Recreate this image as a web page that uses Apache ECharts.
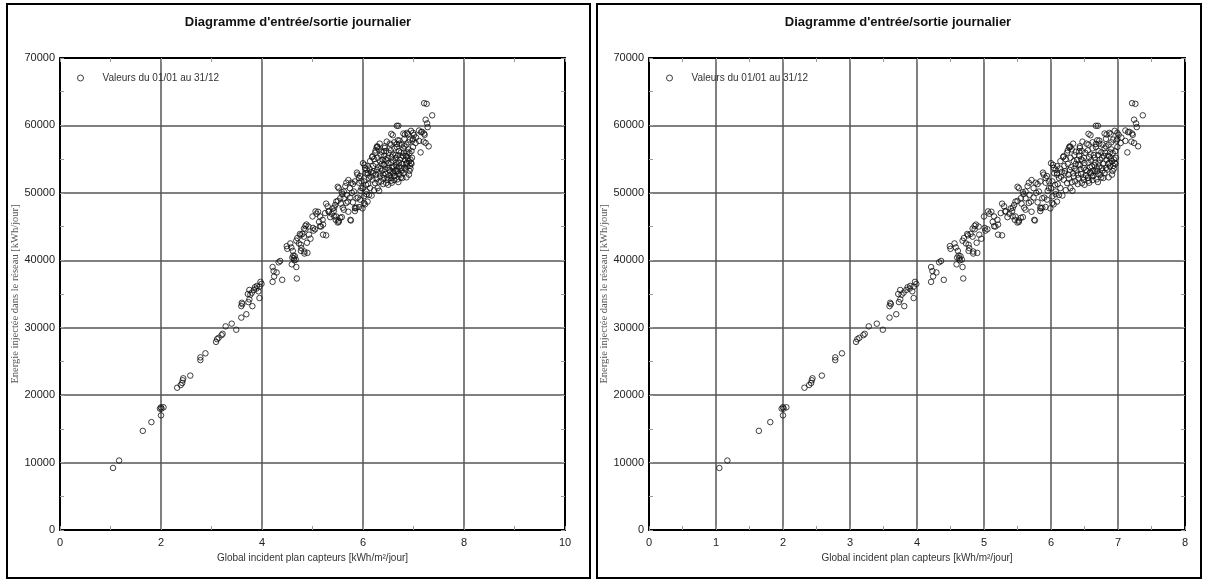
<!DOCTYPE html>
<html>
<head>
<meta charset="utf-8">
<script src="https://cdn.jsdelivr.net/npm/echarts@6/dist/echarts.min.js"></script>
<style>
  html, body { margin: 0; padding: 0; background: #fff; }
  #chart { width: 1205px; height: 581px; }
</style>
</head>
<body>
<div id="chart"></div>
<script>
// Texts
const chartTitle = "Diagramme d'entrée/sortie journalier";
const seriesName = 'Valeurs du 01/01 au 31/12';
const xAxisTitle = 'Global incident plan capteurs [kWh/m²/jour]';
const yAxisTitle = 'Energie injectée dans le réseau [kWh/jour]';

// Tick values
const xTicksLeft = [0, 2, 4, 6, 8, 10];
const xTicksRight = [0, 1, 2, 3, 4, 5, 6, 7, 8];
const yTicks = [0, 10000, 20000, 30000, 40000, 50000, 60000, 70000];

// Daily values [global incident kWh/m²/day, injected energy kWh/day], grouped by irradiation band
const daysBelow4 = [
  [1.05, 9200], [1.17, 10300], [1.64, 14700], [1.81, 16000], [2.0, 17000], [1.98, 18000], [2.0, 18200], [2.05, 18200], [2.01, 18000],
  [2.32, 21100], [2.39, 21500], [2.42, 21800], [2.43, 22200], [2.44, 22500], [2.58, 22900],
  [2.78, 25200], [2.78, 25600], [2.88, 26200],
  [3.09, 27900], [3.11, 28300], [3.14, 28500], [3.2, 28900], [3.22, 29100], [3.28, 30200], [3.4, 30600], [3.49, 29700],
  [3.59, 31500], [3.69, 32000], [3.59, 33200], [3.61, 33500], [3.6, 33700], [3.73, 33800], [3.75, 34200], [3.81, 33200],
  [3.77, 34900], [3.8, 35200], [3.84, 35600], [3.89, 35800], [3.93, 35400], [3.95, 34400], [3.95, 36100], [3.99, 36500],
  [3.75, 35600], [3.72, 35000], [3.86, 36000], [3.97, 36800], [3.9, 36200]
];
const days4to5 = [
  [4.21, 36800], [4.24, 37600], [4.23, 38400], [4.29, 38200], [4.21, 39000], [4.36, 39900], [4.4, 37100], [4.33, 39700],
  [4.59, 39400], [4.63, 40300], [4.65, 40600], [4.67, 40100], [4.68, 39000], [4.69, 37300], [4.62, 40700], [4.6, 40400], [4.64, 40000],
  [4.5, 41700], [4.58, 41900], [4.61, 41400], [4.68, 42900], [4.73, 42500], [4.77, 42300], [4.77, 41400], [4.84, 41300], [4.9, 41100],
  [4.76, 43700], [4.8, 43900], [4.86, 44600], [4.92, 45000], [4.89, 42600], [4.96, 43200], [4.7, 43300], [4.83, 43500],
  [4.49, 42100], [4.56, 42500], [4.75, 43900], [4.86, 45100], [4.88, 45300], [4.83, 44700], [4.78, 41800], [4.84, 41000], [4.93, 43800]
];
const days5to6 = [
  [5.02, 44400], [5.05, 44600], [5.08, 46900], [5.11, 47200], [5.13, 45700], [5.17, 45000], [5.21, 45300], [5.21, 43800],
  [5.27, 43700], [5.25, 47000], [5.27, 48400], [5.32, 47300], [5.35, 46400], [5.42, 47300], [5.43, 46500], [5.46, 46000],
  [5.5, 45600], [5.52, 45900], [5.55, 46300], [5.43, 47800], [5.5, 48800], [5.58, 46400], [5.6, 47800], [5.59, 49800],
  [5.58, 50100], [5.65, 51000], [5.5, 50900], [5.67, 48500], [5.71, 47200], [5.76, 45900], [5.74, 49300], [5.78, 50000],
  [5.8, 51300], [5.84, 47800], [5.87, 47800], [5.84, 47300], [5.9, 49300], [5.92, 47900], [5.95, 50300], [5.92, 52200],
  [5.97, 51700], [5.4, 47700], [5.32, 47200], [5.47, 46500], [5.52, 45700], [5.75, 46000], [5.85, 47700], [5.47, 48700],
  [5.55, 49200], [5.62, 49200], [5.7, 48700], [5.62, 50200], [5.52, 50700], [5.67, 51500], [5.74, 50700], [5.77, 51500],
  [5.82, 50200], [5.87, 49200], [5.94, 49000], [5.99, 47700], [5.84, 51700], [5.89, 52700], [5.94, 52500], [5.92, 51500],
  [5.97, 50700], [5.71, 51900], [5.88, 53000], [5.3, 48000], [5.15, 46500], [5.38, 46900], [5.62, 47500], [5.45, 48200],
  [5.56, 48400], [5.68, 49700], [5.8, 48600], [5.01, 44800], [5.06, 47250], [5.0, 46500], [5.15, 45050], [5.2, 46000]
];
const days6to7 = [
  [6.04, 48300], [6.02, 49500], [6.0, 50700], [6.07, 49800], [6.04, 53700], [6.09, 52700], [6.02, 48500], [6.09, 48700],
  [6.12, 49700], [6.07, 50200], [6.14, 50700], [6.02, 51700], [6.19, 51950], [6.24, 51450], [6.29, 50700], [6.36, 51700],
  [6.46, 51450], [6.0, 54400], [6.03, 54150], [6.18, 55300], [6.28, 56900], [6.43, 56900],
  [6.09, 53950], [6.07, 53450], [6.09, 52950], [6.14, 54700], [6.19, 55450], [6.24, 55950], [6.29, 56800], [6.31, 56450],
  [6.29, 55200], [6.34, 54700], [6.41, 54200], [6.49, 53700], [6.54, 53200], [6.21, 53200], [6.26, 52700], [6.34, 52450],
  [6.41, 52200], [6.49, 51950], [6.56, 51800], [6.61, 52450], [6.69, 53200], [6.76, 55200], [6.81, 55950], [6.46, 56200],
  [6.51, 55950], [6.59, 55700], [6.65, 55200], [6.71, 54450], [6.76, 53700], [6.8, 52950], [6.66, 53200], [6.61, 53950],
  [6.56, 54450], [6.49, 55200], [6.74, 52700], [6.84, 53450], [6.92, 53250], [6.87, 54450], [6.95, 54450], [6.94, 54950],
  [6.87, 55400], [6.92, 55900], [6.9, 56450], [6.71, 56200], [6.77, 57150], [6.86, 57150], [6.9, 57500], [6.98, 57750],
  [6.3, 53800], [6.38, 53300], [6.45, 52800], [6.52, 52600], [6.58, 53000], [6.63, 52500], [6.68, 52000], [6.72, 53900],
  [6.78, 54300], [6.83, 54900], [6.88, 53900], [6.93, 54000], [6.97, 55200], [6.6, 54800], [6.65, 54100], [6.7, 55600],
  [6.75, 56000], [6.8, 56600], [6.85, 55500], [6.55, 56300], [6.5, 54400], [6.44, 53500], [6.39, 54900], [6.35, 55600],
  [6.25, 54300], [6.2, 54000], [6.16, 53100], [6.12, 52200], [6.33, 52900], [6.42, 55500], [6.47, 54800], [6.62, 51900],
  [6.57, 51500], [6.5, 51200], [6.4, 51300], [6.32, 50300], [6.22, 50400], [6.17, 49600], [6.28, 53400], [6.37, 56100],
  [6.62, 56600], [6.67, 56800], [6.72, 57300], [6.82, 58000], [6.88, 56000], [6.96, 56200], [6.99, 56800], [6.91, 52700],
  [6.86, 52300], [6.78, 52200], [6.7, 51600],
  [6.67, 59950], [6.7, 59950], [6.56, 58750], [6.8, 58800], [6.87, 58900], [6.95, 59200], [6.99, 58900], [6.99, 58000],
  [6.93, 57900], [6.72, 57750], [6.67, 57250], [6.62, 57500], [6.56, 57150], [6.43, 56650], [6.42, 56150], [6.27, 56750],
  [6.25, 56300], [6.83, 58650], [6.89, 58700], [6.59, 58550],
  [6.1, 51300], [6.15, 52400], [6.2, 52900], [6.27, 52100], [6.31, 51600], [6.35, 53600], [6.4, 52700], [6.43, 54100],
  [6.48, 52300], [6.52, 53400], [6.55, 52200], [6.58, 53800], [6.6, 52900], [6.63, 53300], [6.66, 54500], [6.68, 53600],
  [6.71, 52800], [6.73, 54900], [6.77, 53300], [6.79, 55500], [6.82, 53700], [6.85, 54300], [6.89, 55100], [6.91, 54700],
  [6.94, 53600], [6.96, 54300], [6.64, 55600], [6.57, 55300], [6.45, 55000], [6.37, 54300], [6.22, 55000], [6.13, 53600],
  [6.05, 52900], [6.06, 51200], [6.75, 52300], [6.82, 56900], [6.69, 57800], [6.53, 57300], [6.47, 57600], [6.33, 57300]
];
const daysAbove7 = [
  [7.21, 63300], [7.26, 63200], [7.37, 61500], [7.24, 60850], [7.27, 60300], [7.28, 59750], [7.11, 59250], [7.17, 59050],
  [7.21, 58800], [7.11, 57700], [7.2, 57600], [7.3, 56900], [7.14, 56000], [7.04, 57400], [7.15, 59000], [7.22, 58600],
  [7.24, 57400], [7.01, 58600], [7.05, 58200]
];

const dailyValues = [].concat(daysBelow4, days4to5, days5to6, days6to7, daysAbove7);

const SANS = "'Liberation Sans Narrow', 'Liberation Sans', Arial, sans-serif";
const SERIF = "'Liberation Serif', 'DejaVu Serif', serif";

const labelStyle = { fontFamily: SANS, fontSize: 11, color: '#222' };
const frameLine = { show: true, onZero: false, lineStyle: { color: '#000', width: 2 } };
const innerTick = { show: true, inside: true, length: 4, lineStyle: { color: '#999', width: 1 } };
const minor = { show: true, splitNumber: 2, length: 4, lineStyle: { color: '#999', width: 1 } };
const gridLine = { show: true, lineStyle: { color: '#555', width: 1.5 } };
const plainNumber = (v) => String(v);

function xAxisPair(gridIndex, ticks) {
  const base = {
    gridIndex, type: 'value',
    min: ticks[0], max: ticks[ticks.length - 1], interval: ticks[1] - ticks[0],
    axisLine: frameLine, axisTick: innerTick, minorTick: minor
  };
  return [
    Object.assign({}, base, {
      position: 'bottom',
      name: xAxisTitle, nameLocation: 'middle', nameGap: 21,
      nameTextStyle: { fontFamily: SANS, fontSize: 10, color: '#333' },
      axisLabel: Object.assign({ margin: 7, formatter: plainNumber }, labelStyle),
      splitLine: gridLine
    }),
    Object.assign({}, base, {
      position: 'top', axisLabel: { show: false }, splitLine: { show: false }
    })
  ];
}

function yAxisPair(gridIndex) {
  const base = {
    gridIndex, type: 'value',
    min: yTicks[0], max: yTicks[yTicks.length - 1], interval: yTicks[1] - yTicks[0],
    axisLine: frameLine, axisTick: innerTick, minorTick: minor
  };
  return [
    Object.assign({}, base, {
      position: 'left',
      name: yAxisTitle, nameLocation: 'middle', nameGap: 29, nameRotate: 90,
      nameTextStyle: { fontFamily: SERIF, fontSize: 10.5, color: '#555' },
      axisLabel: Object.assign({ margin: 5, formatter: plainNumber }, labelStyle),
      splitLine: gridLine
    }),
    Object.assign({}, base, {
      position: 'right', axisLabel: { show: false }, splitLine: { show: false }
    })
  ];
}

function panelTitle(center) {
  return {
    text: chartTitle, left: center, top: 16, textAlign: 'center', padding: 0,
    textStyle: { fontFamily: SANS, fontWeight: 'bold', fontSize: 13, color: '#111' }
  };
}

function panelLegend(left) {
  return {
    left, top: 73, padding: 0, data: [seriesName],
    itemWidth: 6, itemHeight: 6, selectedMode: false,
    itemStyle: { color: 'rgba(0,0,0,0)', borderColor: '#111', borderWidth: 1 },
    textStyle: { fontFamily: SANS, fontSize: 10, color: '#333', padding: [0, 0, 0, 14] }
  };
}

function scatterSeries(axisIndex) {
  return {
    type: 'scatter', name: seriesName,
    xAxisIndex: axisIndex, yAxisIndex: axisIndex,
    data: dailyValues,
    symbol: 'circle', symbolSize: 5.5, silent: true,
    itemStyle: { color: 'rgba(0,0,0,0)', borderColor: '#111', borderWidth: 1 },
    emphasis: { disabled: true }
  };
}

const chart = echarts.init(document.getElementById('chart'), null, { renderer: 'canvas' });
chart.setOption({
  animation: false,
  backgroundColor: '#fff',
  title: [panelTitle(298), panelTitle(898)],
  legend: [panelLegend(77), panelLegend(666)],
  grid: [
    { left: 60, top: 58, width: 505, height: 472 },
    { left: 649, top: 58, width: 536, height: 472 }
  ],
  xAxis: [].concat(xAxisPair(0, xTicksLeft), xAxisPair(1, xTicksRight)),
  yAxis: [].concat(yAxisPair(0), yAxisPair(1)),
  series: [scatterSeries(0), scatterSeries(2)],
  graphic: [
    { type: 'rect', silent: true, shape: { x: 7, y: 4, width: 583, height: 574 },
      style: { fill: 'none', stroke: '#000', lineWidth: 2 } },
    { type: 'rect', silent: true, shape: { x: 597, y: 4, width: 604, height: 574 },
      style: { fill: 'none', stroke: '#000', lineWidth: 2 } }
  ]
});
</script>
</body>
</html>
